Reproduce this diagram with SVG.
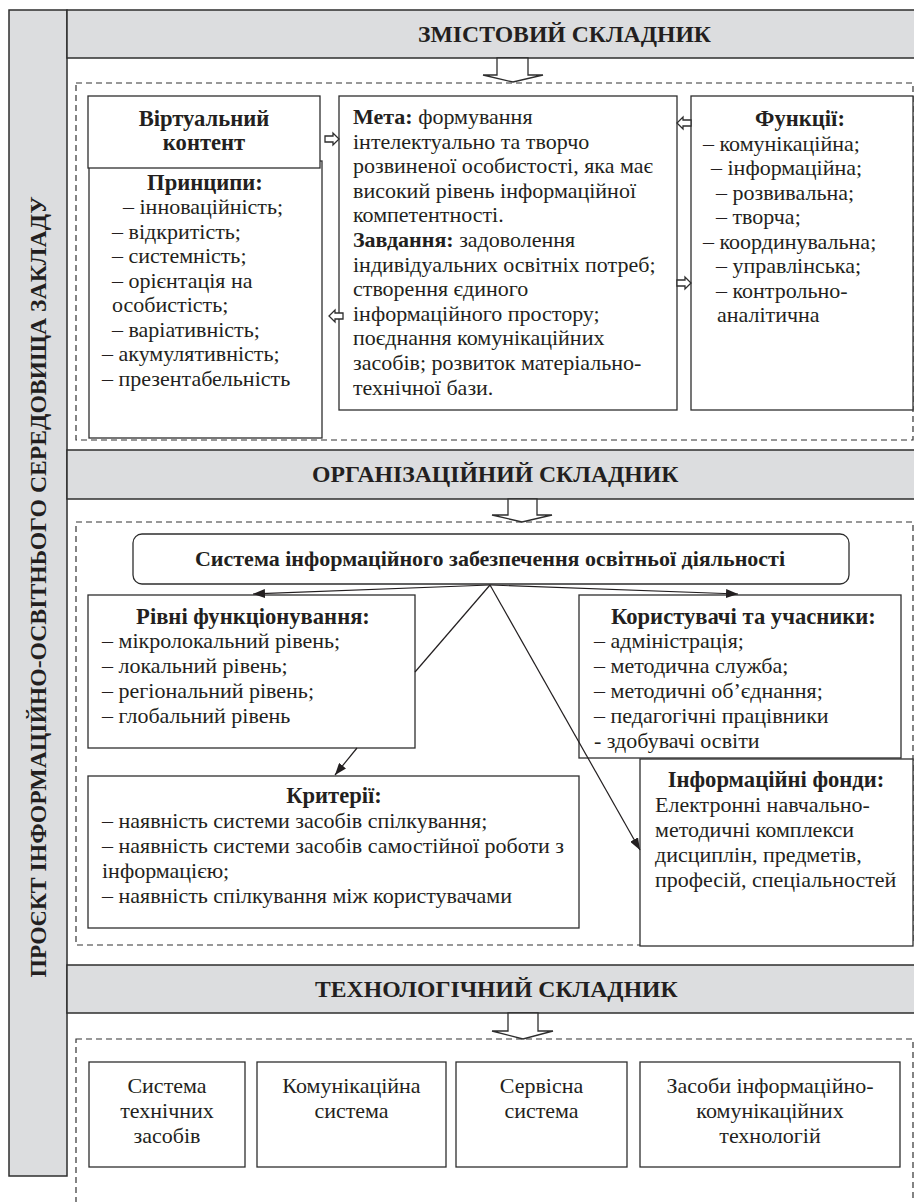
<svg xmlns="http://www.w3.org/2000/svg" width="914" height="1202" viewBox="0 0 914 1202">
<style>
.t{font-family:"Liberation Serif","Times New Roman",serif;font-size:22px;fill:#231f20}
.b{font-weight:bold}
.tt{font-size:22.6px}
.h{font-family:"Liberation Serif","Times New Roman",serif;font-size:23.7px;font-weight:bold;fill:#231f20}
.m{text-anchor:middle}
.band{fill:#dcdddf;stroke:#2e2e2e;stroke-width:1.5}
.box{fill:#fff;stroke:#2e2e2e;stroke-width:1.3}
.dash{fill:none;stroke:#333;stroke-width:1.2;stroke-dasharray:6 4}
.barrow{fill:#fff;stroke:#2e2e2e;stroke-width:1.3}
.conn{fill:none;stroke:#231f20;stroke-width:1.2}
</style>
<defs>
<marker id="ah" markerUnits="userSpaceOnUse" markerWidth="13" markerHeight="9" refX="12" refY="4.5" orient="auto">
<path d="M0,0 L12,4.5 L0,9 z" fill="#231f20"/>
</marker>
</defs>
<rect width="914" height="1202" fill="#fff"/>

<g id="side">
<rect class="band" x="9" y="10" width="58" height="1166"/>
<text class="h m" transform="translate(46,587) rotate(-90)">ПРОЄКТ ІНФОРМАЦІЙНО-ОСВІТНЬОГО СЕРЕДОВИЩА ЗАКЛАДУ</text>
</g>

<g id="header1">
<rect class="band" x="67" y="10" width="850" height="48"/>
<text class="h" x="418" y="42">ЗМІСТОВИЙ СКЛАДНИК</text>
</g>
<g id="header2">
<rect class="band" x="67" y="450" width="850" height="49"/>
<text class="h" x="312" y="482">ОРГАНІЗАЦІЙНИЙ СКЛАДНИК</text>
</g>
<g id="header3">
<rect class="band" x="67" y="965" width="850" height="48"/>
<text class="h" x="315" y="997">ТЕХНОЛОГІЧНИЙ СКЛАДНИК</text>
</g>

<g id="frames">
<rect class="dash" x="76" y="83" width="837" height="357"/>
<rect class="dash" x="76" y="522" width="837" height="423"/>
<rect class="dash" x="76" y="1039" width="837" height="200"/>
</g>

<g id="section-arrows">
<polygon class="barrow" points="497,58 497,75 483,75 513,82 543,75 528,75 528,58"/>
<polygon class="barrow" points="508,499 508,515 492,515 522,522 552,515 537,515 537,499"/>
<polygon class="barrow" points="508,1013 508,1031 492,1031 523,1039 553,1031 538,1031 538,1013"/>
</g>

<g id="principles">
<rect class="box" x="89" y="161" width="233" height="277"/>
<text class="t b tt m" x="205" y="190">Принципи:</text>
<text class="t" x="123" y="214">– інноваційність;</text>
<text class="t" x="112" y="238.5">– відкритість;</text>
<text class="t" x="112" y="263">– системність;</text>
<text class="t" x="112" y="287.5">– орієнтація на</text>
<text class="t" x="112" y="312">особистість;</text>
<text class="t" x="112" y="336.5">– варіативність;</text>
<text class="t" x="102" y="361">– акумулятивність;</text>
<text class="t" x="102" y="385.5">– презентабельність</text>
</g>

<g id="virtual-content">
<rect class="box" x="88" y="96" width="232" height="72"/>
<text class="t b tt m" x="204" y="126">Віртуальний</text>
<text class="t b tt m" x="204" y="150">контент</text>
</g>

<g id="goal">
<rect class="box" x="339" y="96" width="338" height="314"/>
<text class="t" x="353" y="124"><tspan class="b">Мета:</tspan> формування</text>
<text class="t" x="353" y="148.6">інтелектуально та творчо</text>
<text class="t" x="353" y="173.2">розвиненої особистості, яка має</text>
<text class="t" x="353" y="197.8">високий рівень інформаційної</text>
<text class="t" x="353" y="222.4">компетентності.</text>
<text class="t" x="353" y="247"><tspan class="b">Завдання:</tspan> задоволення</text>
<text class="t" x="353" y="271.6">індивідуальних освітніх потреб;</text>
<text class="t" x="353" y="296.2">створення єдиного</text>
<text class="t" x="353" y="320.8">інформаційного простору;</text>
<text class="t" x="353" y="345.4">поєднання комунікаційних</text>
<text class="t" x="353" y="370">засобів; розвиток матеріально-</text>
<text class="t" x="353" y="394.6">технічної бази.</text>
</g>

<g id="functions">
<rect class="box" x="691" y="96" width="222" height="314"/>
<text class="t b tt m" x="800" y="126">Функції:</text>
<text class="t" x="703" y="150.5">– комунікаційна;</text>
<text class="t" x="711" y="175">– інформаційна;</text>
<text class="t" x="716" y="199.5">– розвивальна;</text>
<text class="t" x="716" y="224">– творча;</text>
<text class="t" x="703" y="248.5">– координувальна;</text>
<text class="t" x="716" y="273">– управлінська;</text>
<text class="t" x="716" y="297.5">– контрольно-</text>
<text class="t" x="717" y="322">аналітична</text>
</g>

<g id="small-arrows">
<polygon class="barrow" points="325,136 333,136 333,133 339,139 333,145 333,142 325,142"/>
<polygon class="barrow" points="343,313 335,313 335,310 329,316 335,322 335,319 343,319"/>
<polygon class="barrow" points="691,120 683,120 683,117 677,123 683,129 683,126 691,126"/>
<polygon class="barrow" points="677,280 685,280 685,277 691,283 685,289 685,286 677,286"/>
</g>

<g id="info-system">
<rect class="box" x="133" y="534" width="716" height="50" rx="9"/>
<text class="t b m" x="490" y="566">Система інформаційного забезпечення освітньої діяльності</text>
</g>

<g id="levels">
<rect class="box" x="88" y="595" width="327" height="153"/>
<text class="t b tt m" x="253" y="624">Рівні функціонування:</text>
<text class="t" x="102" y="648">– мікролокальний рівень;</text>
<text class="t" x="102" y="673">– локальний рівень;</text>
<text class="t" x="102" y="698">– регіональний рівень;</text>
<text class="t" x="102" y="723">– глобальний рівень</text>
</g>

<g id="users">
<rect class="box" x="579" y="595" width="322" height="163"/>
<text class="t b tt" x="611" y="624">Користувачі та учасники:</text>
<text class="t" x="594" y="648">– адміністрація;</text>
<text class="t" x="594" y="673">– методична служба;</text>
<text class="t" x="594" y="698">– методичні об’єднання;</text>
<text class="t" x="594" y="723">– педагогічні працівники</text>
<text class="t" x="594" y="748">- здобувачі освіти</text>
</g>

<g id="criteria">
<rect class="box" x="88" y="776" width="491" height="152"/>
<text class="t b tt m" x="334" y="803">Критерії:</text>
<text class="t" x="102" y="828">– наявність системи засобів спілкування;</text>
<text class="t" x="102" y="853">– наявність системи засобів самостійної роботи з</text>
<text class="t" x="102" y="878">інформацією;</text>
<text class="t" x="102" y="903">– наявність спілкування між користувачами</text>
</g>

<g id="funds">
<rect class="box" x="640" y="759" width="273" height="187"/>
<text class="t b tt m" x="776" y="787">Інформаційні фонди:</text>
<text class="t" x="655" y="812">Електронні навчально-</text>
<text class="t" x="655" y="837">методичні комплекси</text>
<text class="t" x="655" y="862">дисциплін, предметів,</text>
<text class="t" x="655" y="887">професій, спеціальностей</text>
</g>

<g id="tech1">
<rect class="box" x="89" y="1062" width="156" height="105"/>
<text class="t m" x="167" y="1093">Система</text>
<text class="t m" x="167" y="1118">технічних</text>
<text class="t m" x="167" y="1143">засобів</text>
</g>
<g id="tech2">
<rect class="box" x="257" y="1062" width="189" height="105"/>
<text class="t m" x="351.5" y="1093">Комунікаційна</text>
<text class="t m" x="351.5" y="1118">система</text>
</g>
<g id="tech3">
<rect class="box" x="456" y="1062" width="171" height="105"/>
<text class="t m" x="541.5" y="1093">Сервісна</text>
<text class="t m" x="541.5" y="1118">система</text>
</g>
<g id="tech4">
<rect class="box" x="640" y="1062" width="260" height="105"/>
<text class="t m" x="770" y="1093">Засоби інформаційно-</text>
<text class="t m" x="770" y="1118">комунікаційних</text>
<text class="t m" x="770" y="1143">технологій</text>
</g>

<g id="connectors">
<line class="conn" x1="490" y1="585" x2="253" y2="594" marker-end="url(#ah)"/>
<line class="conn" x1="490" y1="585" x2="738" y2="594" marker-end="url(#ah)"/>
<line class="conn" x1="490" y1="585" x2="415" y2="672"/>
<line class="conn" x1="357" y1="748" x2="335" y2="775" marker-end="url(#ah)"/>
<line class="conn" x1="490" y1="585" x2="640" y2="850" marker-end="url(#ah)"/>
</g>
</svg>
